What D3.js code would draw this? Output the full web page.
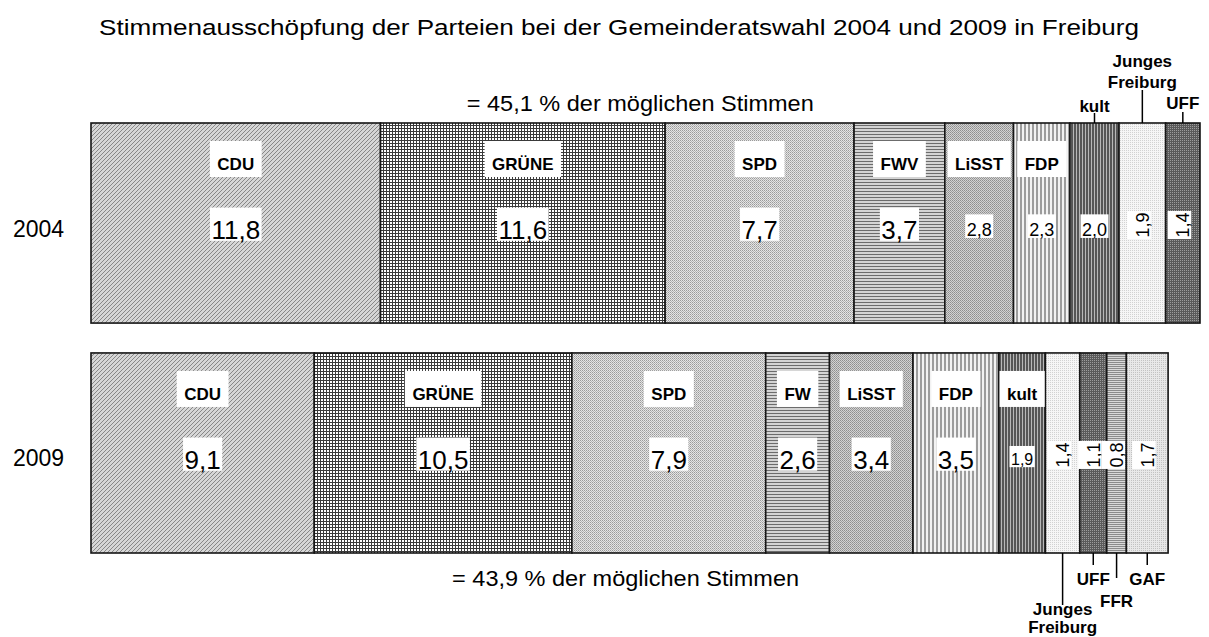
<!DOCTYPE html>
<html>
<head>
<meta charset="utf-8">
<script src="https://cdn.jsdelivr.net/npm/d3@7"></script>
<style>
    html, body { margin: 0; padding: 0; background: #fff; }
    svg { display: block; font-family: "Liberation Sans", Arial, Helvetica, sans-serif; }
</style>
</head>
<body>
<svg id="chart" width="1209" height="637"></svg>
<script>
// Daten (Prozent der möglichen Stimmen)
var years = ['2004', '2009'];
var totals = [45.1, 43.9];
var parties2004 = ['CDU', 'GRÜNE', 'SPD', 'FWV', 'LiSST', 'FDP', 'kult', 'Junges Freiburg', 'UFF'];
var values2004 = [11.8, 11.6, 7.7, 3.7, 2.8, 2.3, 2.0, 1.9, 1.4];
var parties2009 = ['CDU', 'GRÜNE', 'SPD', 'FW', 'LiSST', 'FDP', 'kult', 'Junges Freiburg', 'UFF', 'FFR', 'GAF'];
var values2009 = [9.1, 10.5, 7.9, 2.6, 3.4, 3.5, 1.9, 1.4, 1.1, 0.8, 1.7];
var titleText = 'Stimmenausschöpfung der Parteien bei der Gemeinderatswahl 2004 und 2009 in Freiburg';

(function () {
    var svg = d3.select('#chart');

    // Schraffuren (Muster) je Partei
    var patterns = {
        'CDU':   { w: 4, h: 4, bg: '#d6d6d6', draw: function (p) {
                    p.append('path').attr('d', 'M0,4L4,0M-1,1L1,-1M3,5L5,3')
                        .attr('stroke', '#878787').attr('stroke-width', 1.1); } },
        'GRÜNE': { w: 3, h: 3, bg: '#ffffff', draw: function (p) {
                    p.append('rect').attr('x', 0).attr('y', 2).attr('width', 3).attr('height', 1).attr('fill', '#3a3a3a');
                    p.append('rect').attr('x', 2).attr('y', 0).attr('width', 1).attr('height', 3).attr('fill', '#3a3a3a'); } },
        'SPD':   { w: 2, h: 2, bg: '#e4e4e4', draw: function (p) {
                    p.append('rect').attr('x', 0).attr('y', 0).attr('width', 1).attr('height', 1).attr('fill', '#9a9a9a');
                    p.append('rect').attr('x', 1).attr('y', 1).attr('width', 1).attr('height', 1).attr('fill', '#b4b4b4'); } },
        'FW':    { w: 3, h: 3, bg: '#d4d4d4', draw: function (p) {
                    p.append('rect').attr('x', 0).attr('y', 2).attr('width', 3).attr('height', 1).attr('fill', '#6c6c6c'); } },
        'LiSST': { w: 2, h: 2, bg: '#d2d2d2', draw: function (p) {
                    p.append('rect').attr('x', 0).attr('y', 0).attr('width', 1).attr('height', 1).attr('fill', '#8e8e8e');
                    p.append('rect').attr('x', 1).attr('y', 1).attr('width', 1).attr('height', 1).attr('fill', '#9e9e9e'); } },
        'FDP':   { w: 4, h: 4, bg: '#f2f2f2', draw: function (p) {
                    p.append('rect').attr('x', 0).attr('y', 0).attr('width', 2).attr('height', 4).attr('fill', '#9c9c9c'); } },
        'kult':  { w: 3, h: 3, bg: '#565656', draw: function (p) {
                    p.append('rect').attr('x', 2).attr('y', 0).attr('width', 1).attr('height', 3).attr('fill', '#b8b8b8'); } },
        'Junges Freiburg': { w: 2, h: 2, bg: '#f6f6f6', draw: function (p) {
                    p.append('rect').attr('x', 0).attr('y', 0).attr('width', 1).attr('height', 1).attr('fill', '#d2d2d2'); } },
        'UFF':   { w: 2, h: 2, bg: '#5a5a5a', draw: function (p) {
                    p.append('rect').attr('x', 0).attr('y', 0).attr('width', 1).attr('height', 1).attr('fill', '#9c9c9c'); } },
        'FFR':   { w: 2, h: 2, bg: '#d8d8d8', draw: function (p) {
                    p.append('rect').attr('x', 0).attr('y', 0).attr('width', 2).attr('height', 1).attr('fill', '#8a8a8a'); } },
        'GAF':   { w: 2, h: 2, bg: '#e8e8e8', draw: function (p) {
                    p.append('rect').attr('x', 1).attr('y', 0).attr('width', 1).attr('height', 1).attr('fill', '#c2c2c2'); } }
    };
    patterns['FWV'] = patterns['FW'];

    var defs = svg.append('defs');
    Object.keys(patterns).forEach(function (k, i) {
        var cfg = patterns[k];
        var p = defs.append('pattern')
            .attr('id', 'pat' + i)
            .attr('patternUnits', 'userSpaceOnUse')
            .attr('width', cfg.w).attr('height', cfg.h)
            .attr('shape-rendering', 'crispEdges');
        p.append('rect').attr('width', cfg.w).attr('height', cfg.h).attr('fill', cfg.bg);
        cfg.draw(p);
        cfg.id = 'pat' + i;
    });

    // Darstellung der Werte-Beschriftung
    var valueFont = { big: 26, small: 18, tiny: 16, rot: 18 };
    var valueClass = {
        '2004': { 'CDU': 'big', 'GRÜNE': 'big', 'SPD': 'big', 'FWV': 'big', 'LiSST': 'small', 'FDP': 'small',
                  'kult': 'small', 'Junges Freiburg': 'rot', 'UFF': 'rot' },
        '2009': { 'CDU': 'big', 'GRÜNE': 'big', 'SPD': 'big', 'FW': 'big', 'LiSST': 'big', 'FDP': 'big',
                  'kult': 'tiny', 'Junges Freiburg': 'rot', 'UFF': 'rot', 'FFR': 'rot', 'GAF': 'rot' }
    };
    // Parteinamen ausserhalb des Balkens (mit Hinweislinie)
    var callouts = [
        { year: '2004', party: 'kult', side: 'top', lines: ['kult'], lineLen: 10, textOff: 11, lh: 21 },
        { year: '2004', party: 'Junges Freiburg', side: 'top', lines: ['Junges', 'Freiburg'], lineLen: 33, textOff: 35, lh: 21 },
        { year: '2004', party: 'UFF', side: 'top', lines: ['UFF'], lineLen: 11, textOff: 14, lh: 21 },
        { year: '2009', party: 'Junges Freiburg', side: 'bottom', lines: ['Junges', 'Freiburg'], lineLen: 52, textOff: 62, lh: 18 },
        { year: '2009', party: 'UFF', side: 'bottom', lines: ['UFF'], lineLen: 12, textOff: 32, lh: 18 },
        { year: '2009', party: 'FFR', side: 'bottom', lines: ['FFR'], lineLen: 25, textOff: 54, lh: 18 },
        { year: '2009', party: 'GAF', side: 'bottom', lines: ['GAF'], lineLen: 12, textOff: 32, lh: 18 }
    ];
    var totalY = { '2004': -12, '2009': 33 };

    var x = d3.scaleLinear().domain([0, 45.2]).range([91, 1200]);
    var y = d3.scaleBand().domain(years).range([123, 553]).paddingInner(0.13).paddingOuter(0);

    var rows = [
        { year: years[0], total: totals[0], parties: parties2004, values: values2004 },
        { year: years[1], total: totals[1], parties: parties2009, values: values2009 }
    ];

    // Titel
    svg.append('text')
        .attr('x', 619).attr('y', 35)
        .attr('text-anchor', 'middle')
        .attr('font-size', 22)
        .attr('textLength', 1040)
        .attr('lengthAdjust', 'spacingAndGlyphs')
        .attr('fill', '#000')
        .text(titleText);

    rows.forEach(function (row) {
        var top = y(row.year), bh = y.bandwidth(), bottom = top + bh;
        var ends = Array.from(d3.cumsum(row.values));
        var segs = row.values.map(function (v, i) {
            var x0 = x(i === 0 ? 0 : ends[i - 1]), x1 = x(ends[i]);
            return { party: row.parties[i], value: v, x0: x0, x1: x1, cx: (x0 + x1) / 2 };
        });

        var g = svg.append('g').attr('class', 'row-' + row.year);

        // Jahr
        g.append('text')
            .attr('x', 38.5).attr('y', top + bh / 2 + 13.5)
            .attr('text-anchor', 'middle')
            .attr('font-size', 23)
            .text(row.year);

        // Segmente
        g.selectAll('rect.seg').data(segs).join('rect')
            .attr('class', 'seg')
            .attr('x', function (d) { return d.x0; })
            .attr('y', top)
            .attr('width', function (d) { return d.x1 - d.x0; })
            .attr('height', bh)
            .attr('fill', function (d) { return 'url(#' + patterns[d.party].id + ')'; })
            .attr('stroke', '#151515')
            .attr('stroke-width', 1.6);

        // Summe
        var totalBase = totalY[row.year] < 0 ? top + totalY[row.year] : bottom + totalY[row.year];
        g.append('text')
            .attr('x', x(row.total / 2) - 4).attr('y', totalBase)
            .attr('text-anchor', 'middle')
            .attr('font-size', 22)
            .attr('textLength', 347)
            .attr('lengthAdjust', 'spacingAndGlyphs')
            .text('= ' + d3.format('.1f')(row.total).replace('.', ',') + ' % der möglichen Stimmen');

        var outside = callouts.filter(function (c) { return c.year === row.year; })
            .map(function (c) { return c.party; });

        // Parteinamen im Balken
        segs.forEach(function (d) {
            if (outside.indexOf(d.party) >= 0) return;
            var base = top + 47;
            var lg = g.append('g');
            var rect = lg.append('rect').attr('fill', '#fff');
            var t = lg.append('text')
                .attr('x', d.cx).attr('y', base)
                .attr('text-anchor', 'middle')
                .attr('font-size', 17)
                .attr('font-weight', 700)
                .text(d.party);
            var tw = t.node().getComputedTextLength();
            rect.attr('x', d.cx - tw / 2 - 7.5).attr('y', base - 29)
                .attr('width', tw + 15).attr('height', 36);
        });

        // Werte
        segs.forEach(function (d) {
            var cls = valueClass[row.year][d.party];
            var fs = valueFont[cls];
            var label = d3.format('.1f')(d.value).replace('.', ',');
            var cy = cls === 'rot' ? top + 102 : top + 106.5;
            var vg = g.append('g').attr('transform', 'translate(' + d.cx + ',' + cy + ')' + (cls === 'rot' ? ' rotate(-90)' : ''));
            var rect = vg.append('rect').attr('fill', '#fff');
            var t = vg.append('text')
                .attr('x', 0).attr('y', 0.358 * fs)
                .attr('text-anchor', 'middle')
                .attr('font-size', fs)
                .text(label);
            var tw = t.node().getComputedTextLength();
            rect.attr('x', -tw / 2 - 1.5).attr('y', -0.842 * fs)
                .attr('width', tw + 3).attr('height', 1.2 * fs + 2);
        });

        // Hinweislinien
        callouts.filter(function (c) { return c.year === row.year; }).forEach(function (c) {
            var d = segs.filter(function (s) { return s.party === c.party; })[0];
            var edge = c.side === 'top' ? top : bottom;
            var dir = c.side === 'top' ? -1 : 1;
            g.append('line')
                .attr('x1', d.cx).attr('x2', d.cx)
                .attr('y1', edge).attr('y2', edge + dir * c.lineLen)
                .attr('stroke', '#000').attr('stroke-width', 1.5);
            var n = c.lines.length;
            c.lines.forEach(function (ln, i) {
                var by = c.side === 'top'
                    ? edge - c.textOff - (n - 1 - i) * c.lh
                    : edge + c.textOff + i * c.lh;
                g.append('text')
                    .attr('x', d.cx).attr('y', by)
                    .attr('text-anchor', 'middle')
                    .attr('font-size', 17)
                    .attr('font-weight', 700)
                    .text(ln);
            });
        });
    });
})();
</script>
</body>
</html>
